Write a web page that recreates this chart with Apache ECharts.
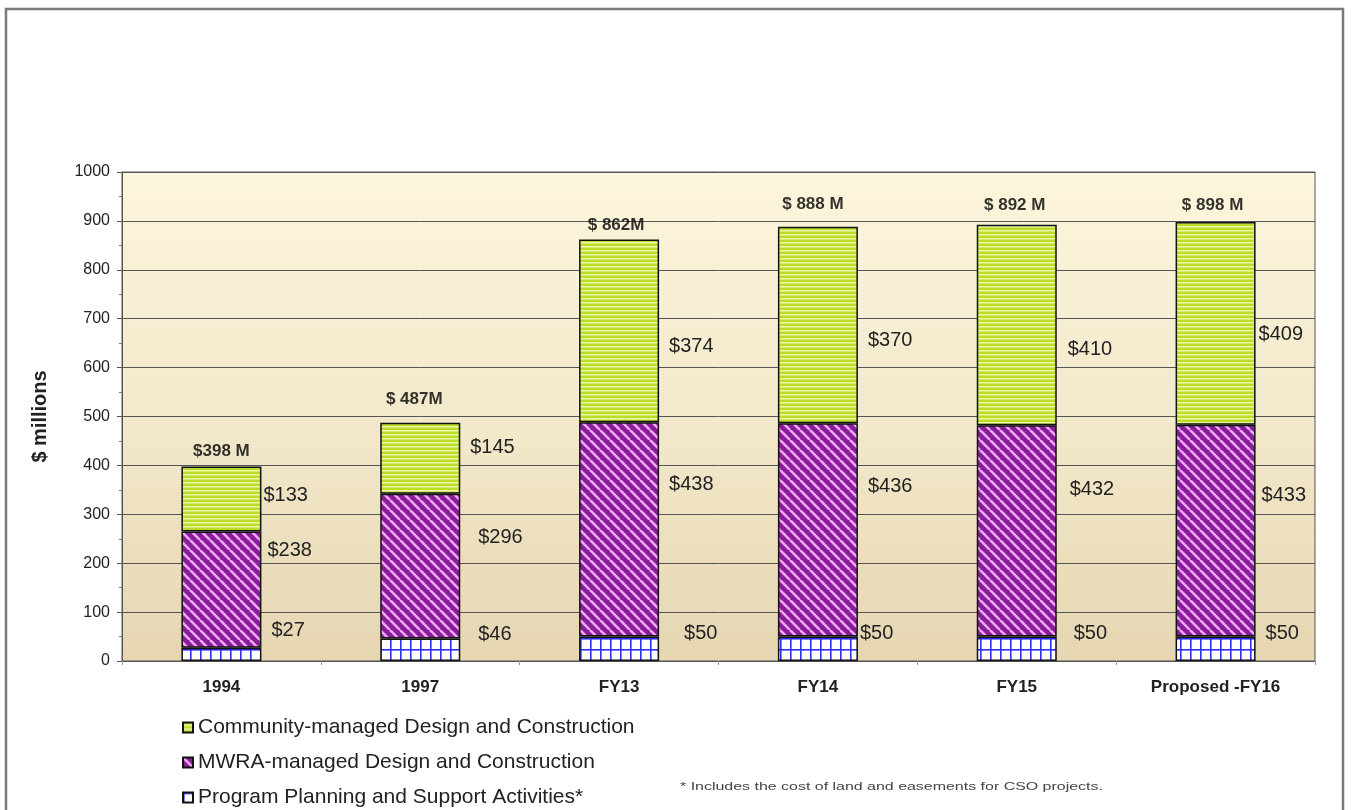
<!DOCTYPE html>
<html>
<head>
<meta charset="utf-8">
<script src="https://cdn.jsdelivr.net/npm/echarts@6/dist/echarts.min.js"></script>
<style>
  html, body { margin: 0; padding: 0; background: #fff; }
  #main { width: 1355px; height: 810px; }
</style>
</head>
<body>
<div id="main"></div>
<script>
// categories and values
var years = ['1994', '1997', 'FY13', 'FY14', 'FY15', 'Proposed -FY16']
var planning = [27, 46, 50, 50, 50, 50]
var mwra = [238, 296, 438, 436, 432, 433]
var community = [133, 145, 374, 402, 410, 415]

var seriesNames = [
  'Community-managed Design and Construction',
  'MWRA-managed Design and Construction',
  'Program Planning and Support Activities*'
]

// printed labels (as written in the source, some differ from bar heights)
var planningText = ['$27', '$46', '$50', '$50', '$50', '$50']
var mwraText = ['$238', '$296', '$438', '$436', '$432', '$433']
var communityText = ['$133', '$145', '$374', '$370', '$410', '$409']
var totalText = ['$398 M', '$ 487M', '$ 862M', '$ 888 M', '$ 892 M', '$ 898 M']

// label placement tweaks [dx, dy]
var planningOff = [[10, -24], [18, -15], [25, -15], [2, -15], [17, -15], [10, -15]]
var mwraOff = [[6, -39], [18, -29], [10, -45], [10, -43], [13, -41], [6, -35]]
var communityOff = [[2, -3], [10, -11], [10, 16], [10, 15], [11, 24], [3, 11]]
var totalOff = [[0, 0], [-6, -9], [-3, 1], [-5, -7], [-2, -4], [-3, -2]]

function makePattern(w, h, draw) {
  var c = document.createElement('canvas')
  c.width = w
  c.height = h
  draw(c.getContext('2d'), w, h)
  return { image: c, repeat: 'repeat' }
}

var greenPat = makePattern(8, 4, function (ctx, w, h) {
  ctx.fillStyle = '#bcdc2a'
  ctx.fillRect(0, 0, w, h)
  ctx.fillStyle = '#eef7a6'
  ctx.fillRect(0, 2, w, 1.5)
})

var purplePat = makePattern(10, 10, function (ctx, w, h) {
  ctx.fillStyle = '#8a1c9c'
  ctx.fillRect(0, 0, w, h)
  ctx.strokeStyle = '#eeaaf2'
  ctx.lineWidth = 2.6
  for (var k = -1; k <= 1; k++) {
    ctx.beginPath()
    ctx.moveTo(k * w, 0)
    ctx.lineTo(k * w + w, h)
    ctx.stroke()
  }
})

var bluePat = makePattern(10, 11, function (ctx, w, h) {
  ctx.fillStyle = '#ffffff'
  ctx.fillRect(0, 0, w, h)
  ctx.fillStyle = '#2f2ff0'
  ctx.fillRect(0, 0, 1.6, h)
  ctx.fillRect(0, 0, w, 1.6)
})

var totals = years.map(function (y, i) { return planning[i] + mwra[i] + community[i] })

function segData(values, texts, offs) {
  return values.map(function (v, i) {
    return {
      value: v,
      label: { formatter: texts[i], offset: offs[i] }
    }
  })
}

function legendRow(name, top) {
  return {
    data: [name],
    left: 177,
    top: top,
    itemWidth: 10,
    itemHeight: 10,
    icon: 'rect',
    textStyle: { fontSize: 21, color: '#222' }
  }
}

var chart = echarts.init(document.getElementById('main'))

var segLabel = {
  show: true,
  position: 'right',
  distance: 0,
  color: '#222',
  fontSize: 20,
  fontFamily: 'Liberation Sans, Arial, sans-serif'
}

chart.setOption({
  backgroundColor: '#ffffff',
  animation: false,
  textStyle: { fontFamily: 'Liberation Sans, Arial, sans-serif' },
  graphic: [
    {
      type: 'rect',
      shape: { x: 6, y: 9, width: 1337, height: 830 },
      style: { fill: 'none', stroke: '#7a7a7a', lineWidth: 2.5 },
      silent: true
    },
    {
      type: 'text',
      x: 680,
      y: 781,
      scaleX: 1.45,
      style: {
        text: '* Includes the cost of land and easements for CSO projects.',
        fill: '#444',
        fontSize: 11,
        fontFamily: 'Liberation Sans, Arial, sans-serif'
      }
    }
  ],
  grid: {
    left: 122,
    right: 40,
    top: 172,
    bottom: 149,
    show: true,
    borderColor: '#555',
    borderWidth: 1,
    backgroundColor: {
      type: 'linear', x: 0, y: 0, x2: 0, y2: 1,
      colorStops: [
        { offset: 0, color: '#fcf6dc' },
        { offset: 0.5, color: '#f3e9cc' },
        { offset: 1, color: '#e6d6b2' }
      ]
    }
  },
  legend: [
    legendRow(seriesNames[0], 712),
    legendRow(seriesNames[1], 747),
    legendRow(seriesNames[2], 782)
  ],
  xAxis: {
    type: 'category',
    data: years,
    axisLine: { show: true, lineStyle: { color: '#555' } },
    axisTick: { show: true, length: 4, lineStyle: { color: '#999' } },
    axisLabel: { fontSize: 17, fontWeight: 'bold', color: '#222', margin: 18 }
  },
  yAxis: {
    type: 'value',
    min: 0,
    max: 1000,
    interval: 100,
    name: '$ millions',
    nameLocation: 'middle',
    nameGap: 72,
    nameTextStyle: { fontSize: 20, fontWeight: 'bold', color: '#222' },
    axisLine: { show: true, lineStyle: { color: '#555' } },
    axisTick: { show: true, length: 5, lineStyle: { color: '#555' } },
    minorTick: { show: true, splitNumber: 2, length: 3, lineStyle: { color: '#777' } },
    axisLabel: { fontSize: 16, color: '#222', margin: 12, formatter: function (v) { return String(v) } },
    splitLine: { show: true, lineStyle: { color: '#555', width: 1 } }
  },
  series: [
    {
      name: seriesNames[2],
      type: 'bar',
      stack: 'cost',
      barWidth: 80,
      data: segData(planning, planningText, planningOff),
      itemStyle: { color: bluePat, borderColor: '#111', borderWidth: 1.5 },
      label: segLabel
    },
    {
      name: seriesNames[1],
      type: 'bar',
      stack: 'cost',
      barWidth: 80,
      data: segData(mwra, mwraText, mwraOff),
      itemStyle: { color: purplePat, borderColor: '#111', borderWidth: 1.5 },
      label: segLabel
    },
    {
      name: seriesNames[0],
      type: 'bar',
      stack: 'cost',
      barWidth: 80,
      data: segData(community, communityText, communityOff),
      itemStyle: { color: greenPat, borderColor: '#111', borderWidth: 1.5 },
      label: segLabel
    },
    {
      name: 'total',
      type: 'scatter',
      symbolSize: 1,
      itemStyle: { color: 'rgba(0,0,0,0)' },
      silent: true,
      data: totals.map(function (t, i) {
        return { value: t, label: { formatter: totalText[i], offset: totalOff[i] } }
      }),
      label: {
        show: true,
        position: 'top',
        distance: 6,
        color: '#000',
        fontSize: 17,
        fontWeight: 'bold'
      }
    }
  ]
})
</script>
</body>
</html>
